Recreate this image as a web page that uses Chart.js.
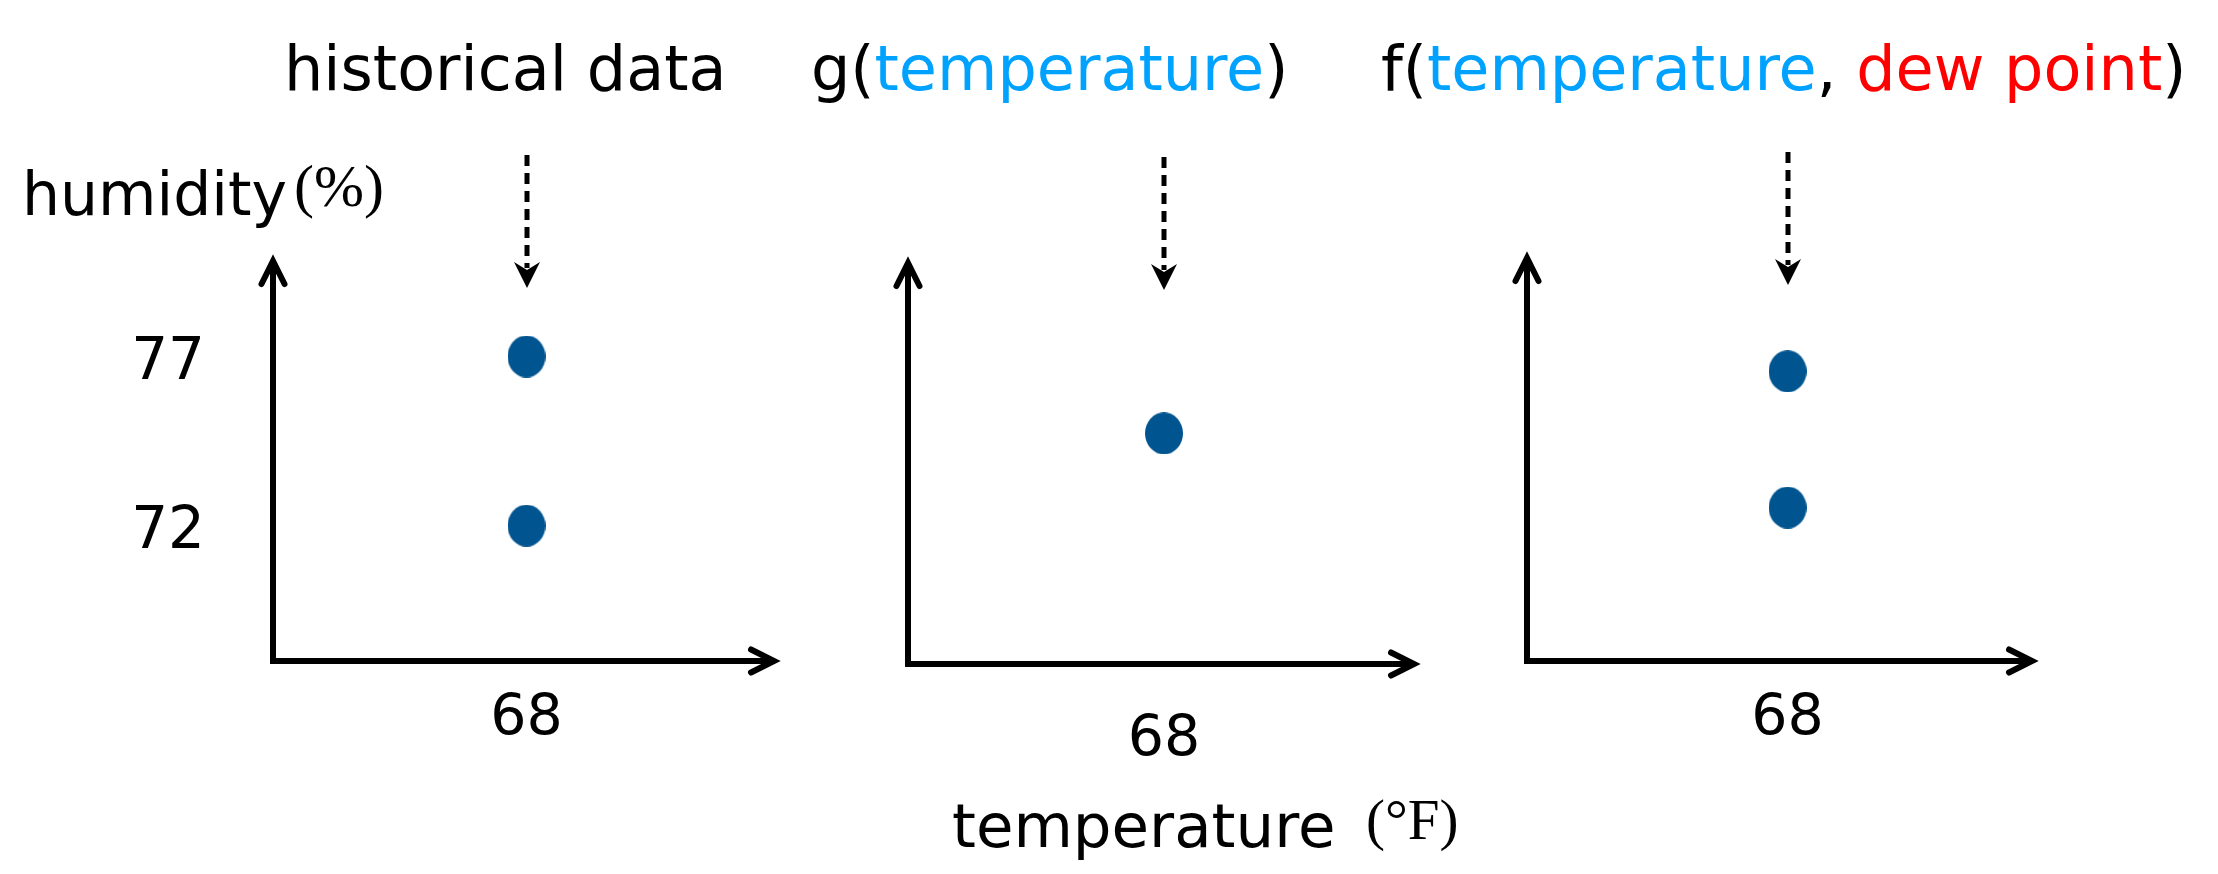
<!DOCTYPE html>
<html>
<head>
<meta charset="utf-8">
<script src="https://cdn.jsdelivr.net/npm/chart.js@4.4.0/dist/chart.umd.min.js"></script>
<style>
html, body { margin: 0; padding: 0; background: #fff; }
#wrap { position: relative; width: 2218px; height: 874px; overflow: hidden; background: #fff; }
.t { position: absolute; white-space: nowrap; line-height: 1; font-family: "DejaVu Sans"; color: #000; }
.s { font-family: "Liberation Serif"; }
.b { color: #00A2FF; }
.r { color: #FF0000; }
canvas { position: absolute; }
</style>
</head>
<body>
<div id="wrap">
  <div class="t" style="left:284px; top:37.5px; font-size:62px;">historical data</div>
  <div class="t" style="left:811px; top:37.5px; font-size:62px;">g(<span class="b">temperature</span>)</div>
  <div class="t" style="left:1381px; top:37.5px; font-size:62px;">f(<span class="b">temperature</span>, <span class="r">dew point</span>)</div>
  <div class="t" style="left:22px; top:164px; font-size:60px;">humidity</div>
  <div class="t s" style="left:294px; top:156px; font-size:60px;">(%)</div>
  <div class="t" style="left:952px; top:795px; font-size:61px;">temperature</div>
  <div class="t s" style="left:1366px; top:791px; font-size:57px;">(°F)</div>

  <canvas id="p1" width="840" height="744" style="left:0px; top:130px;"></canvas>
  <canvas id="p2" width="600" height="744" style="left:860px; top:130px;"></canvas>
  <canvas id="p3" width="738" height="744" style="left:1480px; top:130px;"></canvas>
</div>
<script>
// ---- data ----
const temperatureTicks = [68];
const humidityTicks = [72, 77];
const historicalTemp = [68, 68];
const historicalHumidity = [77, 72];
const gTemp = [68];
const gHumidity = [74.8];
const fTemp = [68, 68];
const fHumidity = [76.5, 72.5];

const POINT_COLOR = '#00548F';
const FONT = 'DejaVu Sans';

// elliptical marker
function makeDot() {
  const c = document.createElement('canvas');
  c.width = 38; c.height = 42;
  const g = c.getContext('2d');
  g.fillStyle = POINT_COLOR;
  g.beginPath();
  g.ellipse(19, 21, 19, 21, 0, 0, Math.PI * 2);
  g.fill();
  return c;
}
const dot = makeDot();

function strokeHead(ctx, tipX, tipY, dx, dy, len, half, lw) {
  const bx = tipX - dx * len, by = tipY - dy * len;
  const px = -dy, py = dx;
  ctx.beginPath();
  ctx.moveTo(bx + px * half, by + py * half);
  ctx.lineTo(tipX, tipY);
  ctx.lineTo(bx - px * half, by - py * half);
  ctx.lineWidth = lw;
  ctx.lineCap = 'round';
  ctx.lineJoin = 'miter';
  ctx.stroke();
  ctx.beginPath();
  ctx.moveTo(tipX, tipY);
  ctx.lineTo(bx + px * half * 0.55 + dx * len * 0.45, by + py * half * 0.55 + dy * len * 0.45);
  ctx.lineTo(bx - px * half * 0.55 + dx * len * 0.45, by - py * half * 0.55 + dy * len * 0.45);
  ctx.closePath();
  ctx.fill();
}

const arrowAxes = {
  id: 'arrowAxes',
  beforeDatasetsDraw(chart, args, opts) {
    const ctx = chart.ctx;
    const a = chart.chartArea;
    ctx.save();
    ctx.strokeStyle = '#000';
    ctx.fillStyle = '#000';
    // y axis
    ctx.lineWidth = 6;
    ctx.lineCap = 'butt';
    ctx.beginPath();
    ctx.moveTo(a.left, a.bottom + 3);
    ctx.lineTo(a.left, a.top + 5);
    ctx.stroke();
    strokeHead(ctx, a.left, a.top + 6, 0, -1, 23, 11.5, 6);
    // x axis
    ctx.lineWidth = 6;
    ctx.lineCap = 'butt';
    ctx.beginPath();
    ctx.moveTo(a.left - 3, a.bottom);
    ctx.lineTo(a.right - 5, a.bottom);
    ctx.stroke();
    strokeHead(ctx, a.right - 6, a.bottom, 1, 0, 23, 11.5, 6);
    // dashed pointer above the points
    const xs = chart.scales.x;
    const px = Math.round(xs.getPixelForValue(opts.pointerValue));
    const top = a.top - 100;
    const tip = a.top + 33;
    ctx.lineWidth = 5;
    ctx.setLineDash([11, 7]);
    ctx.lineCap = 'butt';
    ctx.beginPath();
    ctx.moveTo(px, top);
    ctx.lineTo(px, tip - 20);
    ctx.stroke();
    ctx.setLineDash([]);
    ctx.beginPath();
    ctx.moveTo(px, tip);
    ctx.lineTo(px - 13, tip - 26);
    ctx.lineTo(px, tip - 18);
    ctx.lineTo(px + 13, tip - 26);
    ctx.closePath();
    ctx.fill();
    ctx.restore();
  }
};

function makePanel(id, temps, hums, cfg) {
  const ctx = document.getElementById(id).getContext('2d');
  return new Chart(ctx, {
    type: 'scatter',
    data: {
      datasets: [{
        data: temps.map((t, i) => ({ x: t, y: hums[i] })),
        pointStyle: dot,
        pointRadius: 20,
        backgroundColor: POINT_COLOR,
        borderColor: POINT_COLOR
      }]
    },
    options: {
      responsive: false,
      animation: false,
      events: [],
      layout: { padding: { left: 0, right: cfg.padRight, top: cfg.padTop, bottom: 0 } },
      plugins: {
        legend: { display: false },
        tooltip: { enabled: false },
        arrowAxes: { pointerValue: temps[0] }
      },
      scales: {
        x: {
          type: 'linear',
          min: cfg.xMin, max: cfg.xMax,
          grid: { display: false, drawTicks: false },
          border: { display: false },
          afterBuildTicks: s => { s.ticks = temperatureTicks.map(v => ({ value: v })); },
          afterFit: s => { s.height = cfg.xHeight; },
          ticks: {
            autoSkip: false, maxRotation: 0, padding: cfg.xPad,
            color: '#000', font: { family: FONT, size: 57 }
          }
        },
        y: {
          type: 'linear',
          min: 68, max: 80,
          grid: { display: false, drawTicks: false },
          border: { display: false },
          afterBuildTicks: s => { s.ticks = cfg.showY ? humidityTicks.map(v => ({ value: v })) : []; },
          afterFit: s => { s.width = cfg.yWidth; },
          ticks: {
            display: cfg.showY, autoSkip: false, padding: 68, labelOffset: 7,
            color: '#000', font: { family: FONT, size: 58 }
          }
        }
      }
    },
    plugins: [arrowAxes]
  });
}

makePanel('p1', historicalTemp, historicalHumidity,
  { yWidth: 273, xHeight: 213, padRight: 60, padTop: 125, xPad: 25, showY: true, xMin: 58, xMax: 78 });
makePanel('p2', gTemp, gHumidity,
  { yWidth: 48, xHeight: 210, padRight: 40, padTop: 127, xPad: 43, showY: false, xMin: 58, xMax: 78 });
makePanel('p3', fTemp, fHumidity,
  { yWidth: 47, xHeight: 213, padRight: 180, padTop: 122, xPad: 25, showY: false, xMin: 57.8, xMax: 77.8 });
</script>
</body>
</html>
